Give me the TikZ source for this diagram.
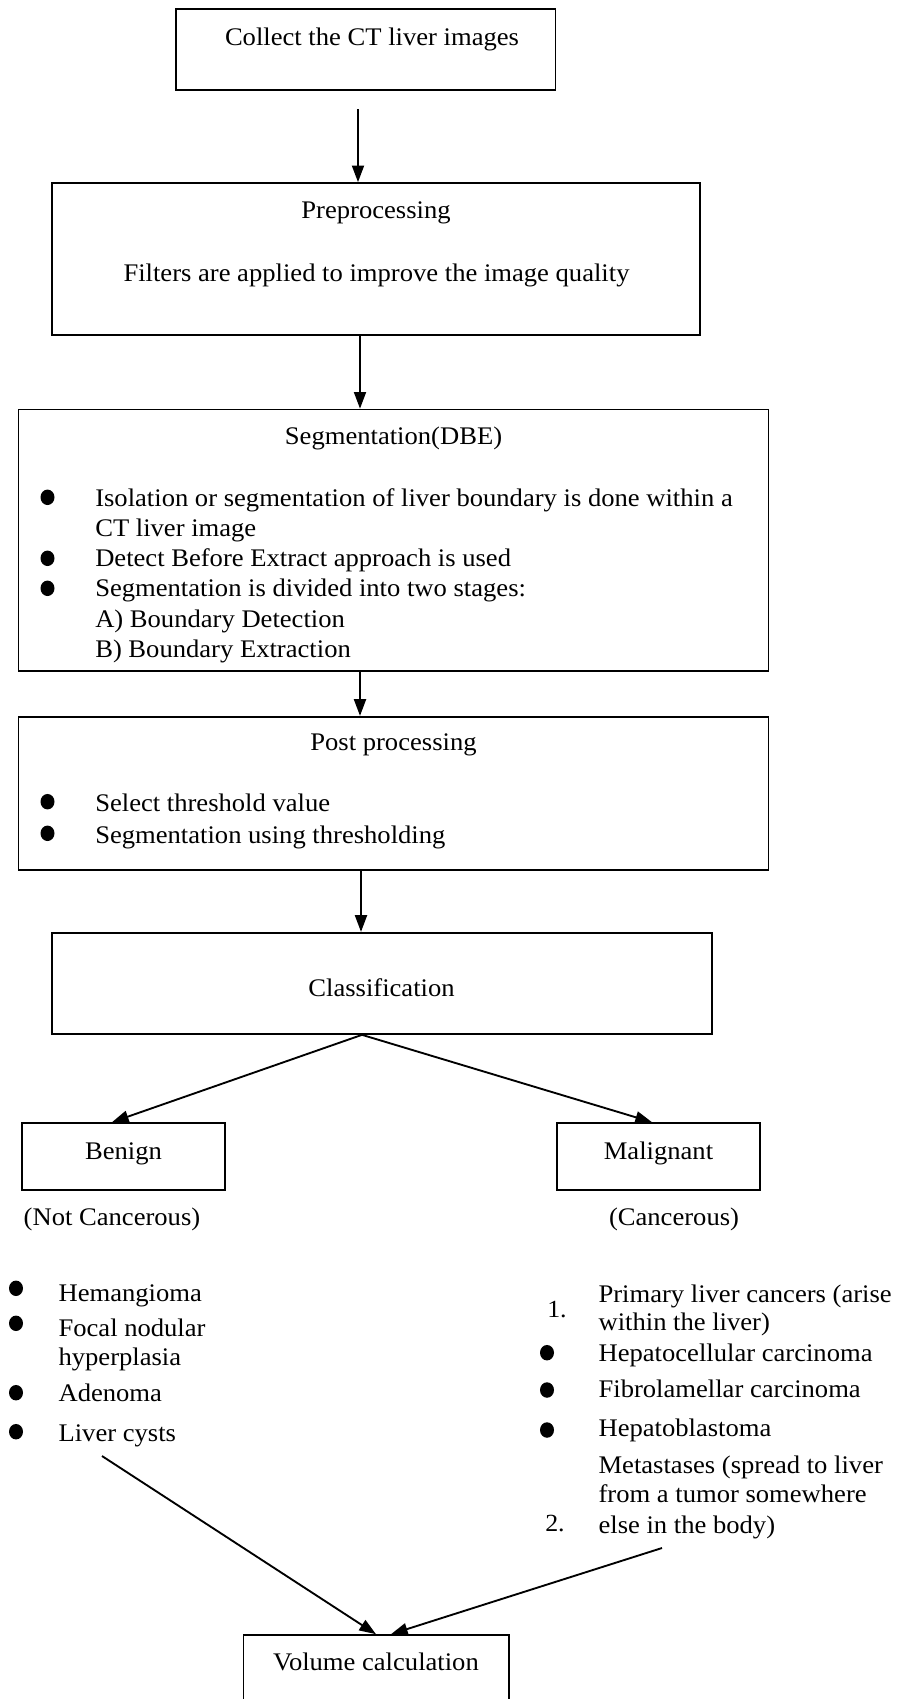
\documentclass[tikz,border=0pt]{standalone}
\usepackage{fontspec}
\setmainfont{Liberation Serif}[FakeStretch=1.05]
\usetikzlibrary{arrows.meta,fit,shapes.geometric}
\tikzset{
  box/.style={draw, line width=1.25pt, inner sep=0pt},
  txt/.style={inner sep=0pt, anchor=base, font=\fontsize{19pt}{22.9pt}\selectfont},
  ltxt/.style={txt, anchor=base west},
  numtxt/.style={inner sep=0pt, anchor=base west, font=\fontsize{18.5pt}{20pt}\selectfont},
  dot/.style={ellipse, fill=black, inner sep=0pt, minimum width=10.5pt, minimum height=11.6pt},
  arr/.style={line width=1.4pt, -{Triangle[length=12.5pt,width=9pt]}},
}
\begin{document}
\begin{tikzpicture}[x=0.75pt,y=-0.75pt]
\useasboundingbox (0,0) rectangle (896,1699);

% boxes
\node[box, fit={(176.3,9) (555.4,90)}] (collect) {};
\node[box, fit={(52,183) (700,335)}] (pre) {};
\node[box, fit={(18.4,409.5) (768.5,670.7)}] (seg) {};
\node[box, fit={(18.4,716.7) (768.5,870)}] (post) {};
\node[box, fit={(52,932.7) (712,1034)}] (class) {};
\node[box, fit={(22,1123) (225,1190)}] (benign) {};
\node[box, fit={(557,1123) (760,1190)}] (malig) {};
\node[box, fit={(243.5,1635) (509,1730)}] (volume) {};

% box texts
\node[txt] (tcollect) at (372,45.5) {Collect the CT liver images};
\node[txt] (tpre) at (376,218.5) {Preprocessing};
\node[txt] (tfilt) at (376.5,281) {Filters are applied to improve the image quality};
\node[txt] (tseg) at (393.5,444) {Segmentation(DBE)};
\node[dot] (sb1) at (47.5,497.3) {};
\node[ltxt] (sl1) at (95,506) {Isolation or segmentation of liver boundary is done within a};
\node[ltxt] (sl2) at (95,536.7) {CT liver image};
\node[dot] (sb2) at (47.5,558.3) {};
\node[ltxt] (sl3) at (95,566.7) {Detect Before Extract approach is used};
\node[dot] (sb3) at (47.5,588.3) {};
\node[ltxt] (sl4) at (95,596.7) {Segmentation is divided into two stages:};
\node[ltxt] (sl5) at (95,627.7) {A) Boundary Detection};
\node[ltxt] (sl6) at (95,657.7) {B) Boundary Extraction};

\node[txt] (tpost) at (393.5,750) {Post processing};
\node[dot] (pb1) at (47.5,801.7) {};
\node[ltxt] (pl1) at (95,811.5) {Select threshold value};
\node[dot] (pb2) at (47.5,833.3) {};
\node[ltxt] (pl2) at (95,843) {Segmentation using thresholding};

\node[txt] (tclass) at (381.5,996.5) {Classification};
\node[txt] (tben) at (123.5,1159.3) {Benign};
\node[txt] (tmal) at (658.5,1159.3) {Malignant};
\node[txt] (tnc) at (112,1225.3) {(Not Cancerous)};
\node[txt] (tc) at (674,1225.3) {(Cancerous)};
\node[txt] (tvol) at (376,1670.7) {Volume calculation};

% left list
\node[dot] (lb1) at (16,1288.3) {};
\node[ltxt] (ll1) at (58.3,1301.7) {Hemangioma};
\node[dot] (lb2) at (16,1323.3) {};
\node[ltxt] (ll2) at (58.3,1336.7) {Focal nodular};
\node[ltxt] (ll3) at (58.3,1365) {hyperplasia};
\node[dot] (lb3) at (16,1392.7) {};
\node[ltxt] (ll4) at (58.3,1401.7) {Adenoma};
\node[dot] (lb4) at (16,1431.7) {};
\node[ltxt] (ll5) at (58.3,1441.7) {Liver cysts};

% right list
\node[numtxt] (n1) at (547,1317) {1.};
\node[ltxt] (rl1) at (598.3,1302.7) {Primary liver cancers (arise};
\node[ltxt] (rl2) at (598.3,1330) {within the liver)};
\node[dot] (rb1) at (547,1352.7) {};
\node[ltxt] (rl3) at (598.3,1361) {Hepatocellular carcinoma};
\node[dot] (rb2) at (547,1390) {};
\node[ltxt] (rl4) at (598.3,1397.3) {Fibrolamellar carcinoma};
\node[dot] (rb3) at (547,1430) {};
\node[ltxt] (rl5) at (598.3,1436.7) {Hepatoblastoma};
\node[ltxt] (rl6) at (598.3,1473.3) {Metastases (spread to liver};
\node[ltxt] (rl7) at (598.3,1502.7) {from a tumor somewhere};
\node[ltxt] (rl8) at (598.3,1533.3) {else in the body)};
\node[numtxt] (n2) at (545,1531) {2.};

% connectors
\coordinate (s1) at (358,109);
\draw[arr] (s1) -- (pre.north -| s1);
\coordinate (s2) at (360,0);
\draw[arr] (pre.south -| s2) -- (seg.north -| s2);
\coordinate (s3) at (360,0);
\draw[arr] (seg.south -| s3) -- (post.north -| s3);
\coordinate (s4) at (361,0);
\draw[arr] (post.south -| s4) -- (class.north -| s4);
\coordinate (c5) at (362,0);
\coordinate (b5) at (112,0);
\coordinate (m6) at (652,0);
\draw[arr] (class.south -| c5) -- (benign.north -| b5);
\draw[arr] (class.south -| c5) -- (malig.north -| m6);
\coordinate (cy) at (102,1456);
\coordinate (v7) at (376,0);
\draw[arr] (cy) -- (volume.north -| v7);
\coordinate (me) at (662,1548);
\coordinate (v8) at (391,0);
\draw[arr] (me) -- (volume.north -| v8);
\end{tikzpicture}
\end{document}
